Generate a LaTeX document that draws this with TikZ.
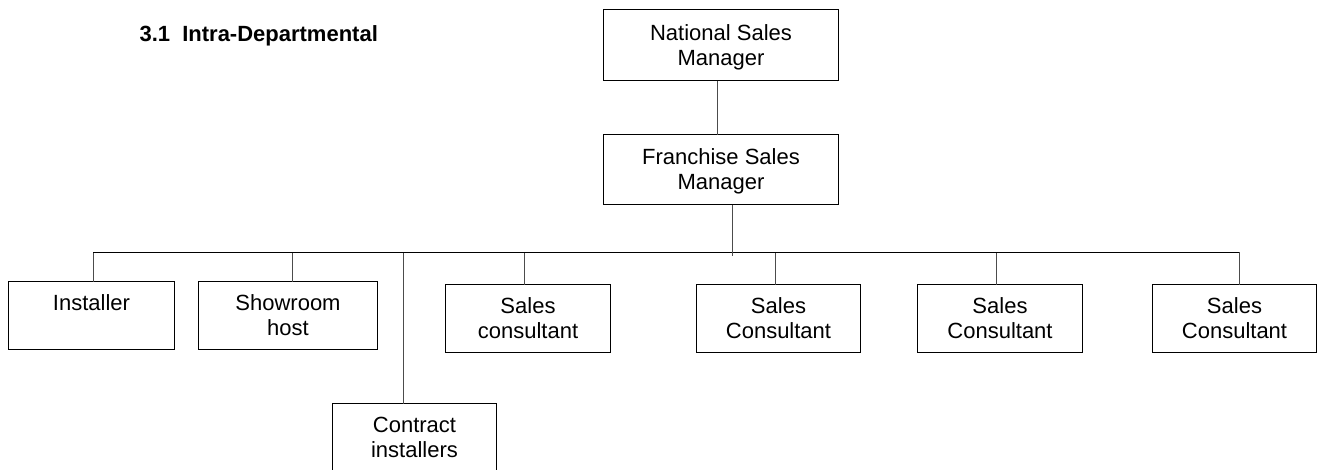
\documentclass[tikz,border=0pt]{standalone}
\usepackage{fontspec}
\setmainfont{Liberation Sans}
\usepackage[dvipsnames]{xcolor}
\colorlet{colorBox}{black}
\colorlet{colorLink}{black!70}
\colorlet{colorBar}{black}
\usetikzlibrary{positioning}
\tikzset{role/.style={draw=colorBox, line width=1.3pt, align=center, inner sep=0pt, outer sep=0pt, minimum height=68pt, text depth=0pt, font=\fontsize{22}{25}\selectfont},
         link/.style={draw=colorLink, line width=0.8pt}}

\begin{document}
\begin{tikzpicture}[x=1pt, y=-1pt]
\useasboundingbox (0,0) rectangle (1318,469);
\node[anchor=base west, font=\bfseries\fontsize{22}{25}\selectfont] (title) at (136,41) {3.1~~Intra-Departmental};
\node[role, minimum width=235pt, minimum height=71pt] (nsm) at (721,45) {National Sales\\Manager};
\node[role, minimum width=235pt, minimum height=70pt] (fsm) at (721,169.5) {Franchise Sales\\Manager};
\node[role, minimum width=166pt] (inst) at (91.5,315.5) {Installer\\\mbox{}};
\node[role, minimum width=179pt] (show) at (288,315.5) {Showroom\\host};
\node[role, minimum width=164pt] (con) at (414.5,437.5) {Contract\\installers};
\node[role, minimum width=165pt] (sc1) at (528,318.5) {Sales\\consultant};
\node[role, minimum width=164pt] (sc2) at (778.5,318.5) {Sales\\Consultant};
\node[role, minimum width=165pt] (sc3) at (1000,318.5) {Sales\\Consultant};
\node[role, minimum width=164pt] (sc4) at (1234.5,318.5) {Sales\\Consultant};
\foreach \x/\n in {93/inst, 292.5/show, 403/con, 524/sc1, 775/sc2, 996/sc3, 1239/sc4}
  {\coordinate (drop-\n) at (\x,252);
   \draw[link] (drop-\n) -- (drop-\n |- \n.north);}
\draw[colorBar, line width=1pt] (drop-inst) -- (drop-sc4);
\coordinate (nsm-out) at ([xshift=-3.5pt]nsm.south);
\draw[link] (nsm-out) -- (nsm-out |- fsm.north);
\coordinate (fsm-out) at ([xshift=11pt]fsm.south);
\draw[link] (fsm-out) -- ([yshift=-4pt]fsm-out |- drop-inst);
\end{tikzpicture}
\end{document}
